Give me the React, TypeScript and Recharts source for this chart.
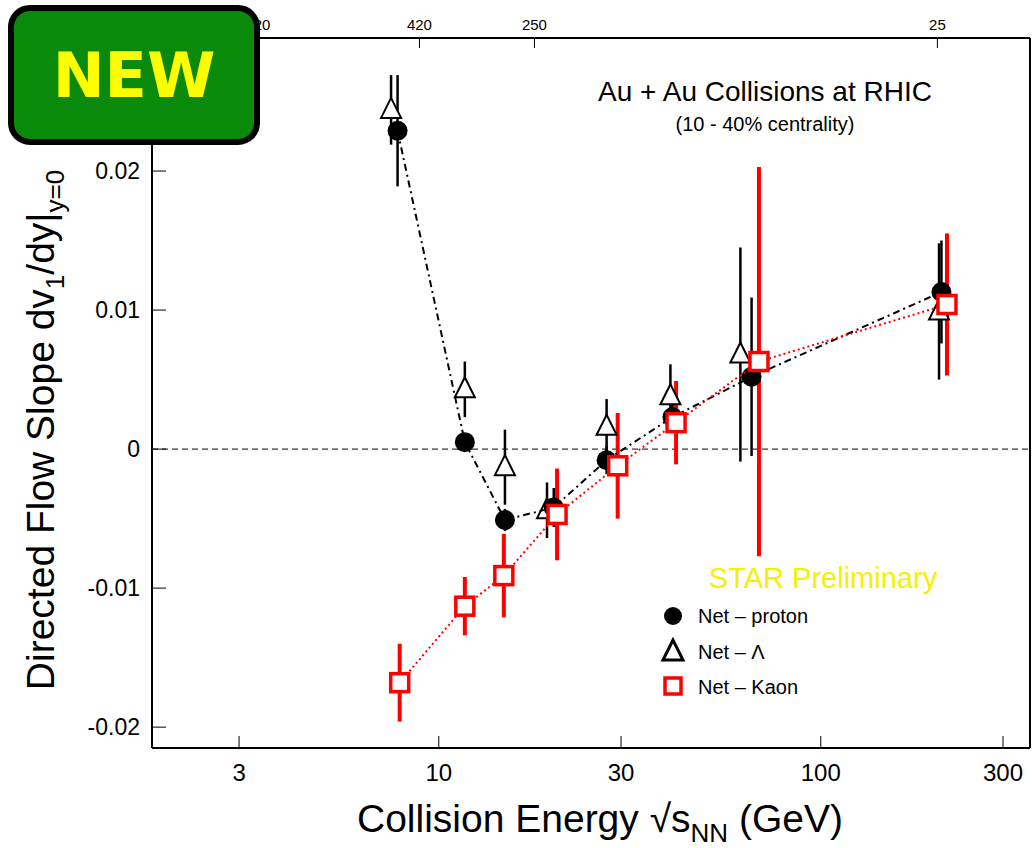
import React from 'react';
import { ComposedChart, Scatter, XAxis, YAxis, ErrorBar, ReferenceLine, Customized } from 'recharts';

const protonX = [7.8, 11.7, 14.9, 20.0, 27.5, 40.9, 65.9, 207];
const protonY = [0.0229, 0.0005, -0.0051, -0.0042, -0.0008, 0.0023, 0.0052, 0.0113];
const protonErr = [0.0040, 0.0006, 0.0008, 0.0014, 0.0010, 0.0010, 0.0057, 0.0037];
const lambdaX = [7.5, 11.7, 14.9, 19.2, 27.5, 40.4, 61.6, 204];
const lambdaY = [0.0244, 0.0043, -0.0013, -0.0044, 0.0016, 0.0038, 0.0068, 0.0099];
const lambdaErr = [0.0025, 0.0020, 0.0027, 0.0020, 0.0020, 0.0023, 0.0077, 0.0049];
const kaonX = [7.9, 11.7, 14.8, 20.4, 29.4, 41.8, 68.9, 214];
const kaonY = [-0.0168, -0.0113, -0.0091, -0.0047, -0.0012, 0.0019, 0.0063, 0.0104];
const kaonErr = [0.0028, 0.0021, 0.0030, 0.0033, 0.0038, 0.0030, 0.0140, 0.0051];
const xTicks = [3, 10, 30, 100, 300];
const yTicks = [-0.02, -0.01, 0, 0.01, 0.02];
const topTickX = [3.36, 8.9, 17.8, 202];
const topTickLabels = ['720', '420', '250', '25'];

const mk = (xs: number[], ys: number[], es: number[]) => xs.map((x, i) => ({ x, y: ys[i], err: es[i] }));
const proton = mk(protonX, protonY, protonErr);
const lambda = mk(lambdaX, lambdaY, lambdaErr);
const kaon = mk(kaonX, kaonY, kaonErr);

const FONT = '"Liberation Sans", Arial, sans-serif';
const fmtY = (v: number) => (v === 0 ? '0' : String(Math.round(v * 100) / 100));

const Circle = (p: any) => <circle cx={p.cx} cy={p.cy} r={10} fill="#000" />;
const Tri = (p: any) => (
  <polygon points={`${p.cx},${p.cy - 12} ${p.cx - 10},${p.cy + 8} ${p.cx + 10},${p.cy + 8}`} fill="#fff" stroke="#000" strokeWidth={2} />
);
const Sq = (p: any) => <rect x={p.cx - 9} y={p.cy - 9} width={18} height={18} fill="#fff" stroke="#f00" strokeWidth={3.5} />;

export default function App() {
  return (
    <div style={{ position: 'absolute', left: 0, top: 0, width: 1032, height: 848, background: '#fff', fontFamily: FONT }}>
      <ComposedChart width={1032} height={848} margin={{ top: 8, right: 0, bottom: 70, left: 0 }}>
        <XAxis xAxisId="b" dataKey="x" type="number" scale="log" domain={[1.775, 353]} ticks={xTicks} allowDataOverflow height={30}
          tick={{ fontSize: 24, fill: '#000', fontFamily: FONT }} tickLine={{ stroke: '#000' }} tickSize={-12} tickMargin={28}
          axisLine={{ stroke: '#000', strokeWidth: 2 }} />
        <XAxis xAxisId="t" orientation="top" dataKey="x" type="number" scale="log" domain={[1.775, 353]} ticks={topTickX} allowDataOverflow height={30}
          tickFormatter={(v: number) => topTickLabels[topTickX.indexOf(v)] ?? ''}
          tick={{ fontSize: 15, fill: '#000', fontFamily: FONT }} tickLine={{ stroke: '#000' }} tickSize={-10} tickMargin={18}
          axisLine={{ stroke: '#000', strokeWidth: 2 }} />
        <YAxis yAxisId="l" dataKey="y" type="number" domain={[-0.0215, 0.02957]} ticks={yTicks} allowDataOverflow tickFormatter={fmtY}
          tick={{ fontSize: 23, fill: '#000', fontFamily: FONT }} tickLine={{ stroke: '#000' }} tickSize={-14} tickMargin={26}
          axisLine={{ stroke: '#000', strokeWidth: 2 }} width={152} />
        <YAxis yAxisId="r" dataKey="y" orientation="right" type="number" domain={[-0.0215, 0.02957]} ticks={yTicks} allowDataOverflow
          tick={false} tickLine={{ stroke: '#000' }} tickSize={-14} axisLine={{ stroke: '#000', strokeWidth: 2 }} width={2} />
        <ReferenceLine xAxisId="b" yAxisId="l" y={0} stroke="#000" strokeDasharray="6 4" strokeWidth={1} />
        <Scatter xAxisId="b" yAxisId="l" dataKey="y" data={lambda} shape={Tri} isAnimationActive={false}>
          <ErrorBar dataKey="err" direction="y" width={0} stroke="#000" strokeWidth={2.5} />
        </Scatter>
        <Scatter xAxisId="b" yAxisId="l" dataKey="y" data={proton} shape={Circle} isAnimationActive={false}
          line={{ stroke: '#000', strokeWidth: 2, strokeDasharray: '7 4 2 4' }}>
          <ErrorBar dataKey="err" direction="y" width={0} stroke="#000" strokeWidth={2.5} />
        </Scatter>
        <Scatter xAxisId="b" yAxisId="l" dataKey="y" data={kaon} shape={Sq} isAnimationActive={false}
          line={{ stroke: '#f00', strokeWidth: 2, strokeDasharray: '2 3' }}>
          <ErrorBar dataKey="err" direction="y" width={0} stroke="#f00" strokeWidth={4} />
        </Scatter>
        <Customized component={() => (
          <g fontFamily={FONT}>
            <text x={765} y={101} fontSize={28} textAnchor="middle">Au + Au Collisions at RHIC</text>
            <text x={765} y={131} fontSize={20} textAnchor="middle">(10 - 40% centrality)</text>
            <text x={823} y={588} fontSize={29} textAnchor="middle" fill="#f2f200">STAR Preliminary</text>
            <circle cx={673} cy={616} r={9} fill="#000" />
            <text x={698} y={623} fontSize={20}>Net – proton</text>
            <polygon points="673,640 663,660 683,660" fill="#fff" stroke="#000" strokeWidth={3} />
            <text x={698} y={659} fontSize={20}>Net – Λ</text>
            <rect x={665} y={678} width={16} height={16} fill="#fff" stroke="#f00" strokeWidth={3.5} />
            <text x={698} y={694} fontSize={20}>Net – Kaon</text>
            <text x={600} y={832} fontSize={39} textAnchor="middle">Collision Energy √s<tspan fontSize={26} dy={10}>NN</tspan><tspan dy={-10}> (GeV)</tspan></text>
            <text transform="translate(54,430) rotate(-90)" fontSize={39} textAnchor="middle">Directed Flow Slope dv<tspan fontSize={26} dy={10}>1</tspan><tspan dy={-10}>/dy|</tspan><tspan fontSize={26} dy={10}>y=0</tspan></text>
          </g>
        )} />
      </ComposedChart>
      <div style={{ position: 'absolute', left: 8, top: 5, width: 240, height: 128, background: '#0a8a0a', border: '6px solid #000', borderRadius: 22,
        display: 'flex', alignItems: 'center', justifyContent: 'center', color: '#ffff00', fontFamily: '"DejaVu Sans", sans-serif', fontWeight: 900, fontSize: 62 }}>NEW</div>
    </div>
  );
}
